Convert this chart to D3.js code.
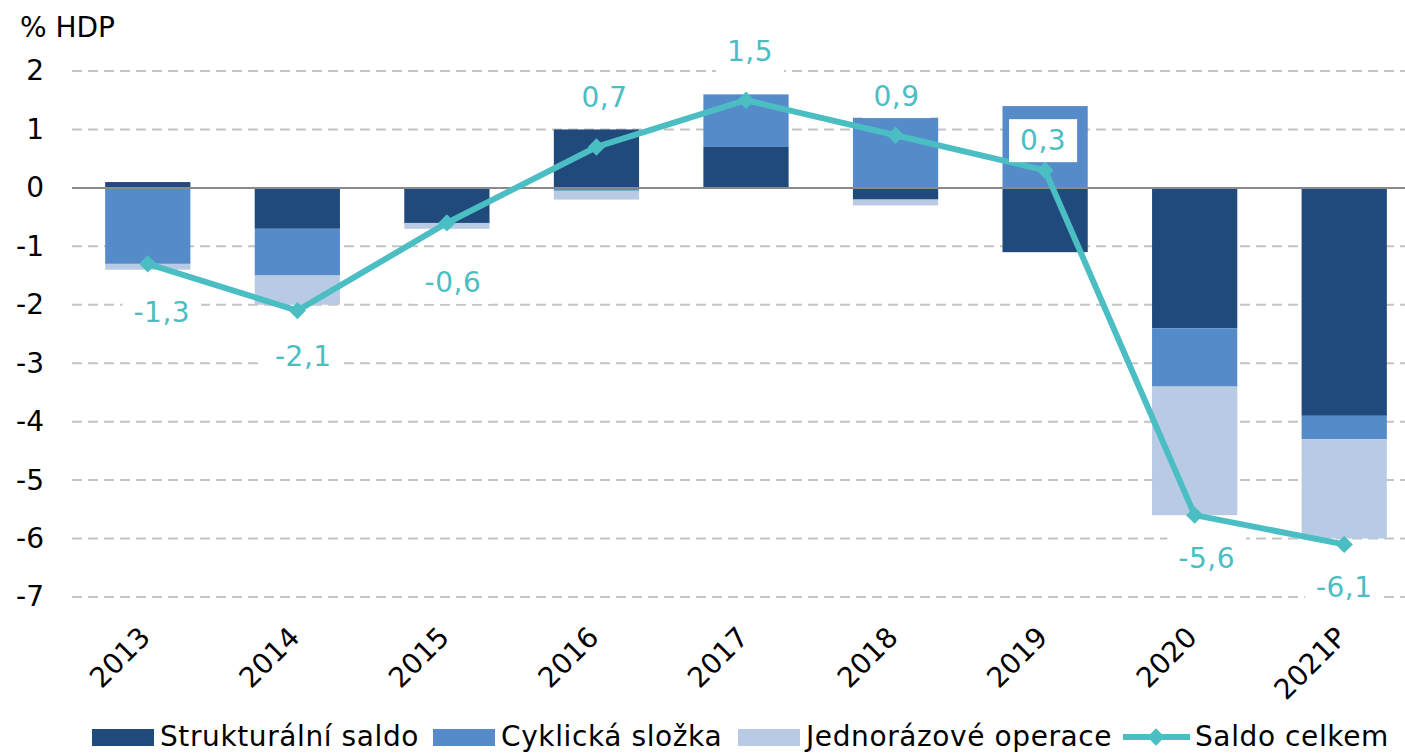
<!DOCTYPE html>
<html>
<head>
<meta charset="utf-8">
<script src="https://cdnjs.cloudflare.com/ajax/libs/d3/7.8.5/d3.min.js"></script>
<style>
  body { margin: 0; background: #fff; }
  svg { display: block; font-family: "DejaVu Sans", Verdana, sans-serif; }
</style>
</head>
<body>
<div id="chart"></div>
<script>
// data (% HDP)
var years = ["2013", "2014", "2015", "2016", "2017", "2018", "2019", "2020", "2021P"];
var strukturalni = [0.1, -0.7, -0.6, 1.0, 0.7, -0.2, -1.1, -2.4, -3.9];
var cyklicka = [-1.3, -0.8, 0.0, -0.05, 0.9, 1.2, 1.4, -1.0, -0.4];
var jednorazove = [-0.1, -0.5, -0.1, -0.15, 0.0, -0.1, 0.0, -2.2, -1.7];
var saldoCelkem = [-1.3, -2.1, -0.6, 0.7, 1.5, 0.9, 0.3, -5.6, -6.1];
var yTicks = [2, 1, 0, -1, -2, -3, -4, -5, -6, -7];
var seriesNames = ["Strukturální saldo", "Cyklická složka", "Jednorázové operace", "Saldo celkem"];

var svgWidth = 1405;
var svgHeight = 753;

var colors = ["#214a7c", "#568bca", "#b9cbe4"];
var lineColor = "#4bbec4";

// label nudges (dx, dy from the point), like the hand placed labels of the original
var labelShift = [[14, 48], [6, 46], [6, 59], [8, -50], [4, -49], [1, -39], [-2, -30], [12, 43], [0, 43]];
// legend item start positions
var legendX = [92, 433, 738, 1123];

var svg = d3.select("#chart")
  .append("svg")
  .attr("width", svgWidth)
  .attr("height", svgHeight);

var xScale = d3.scaleBand()
  .domain(years)
  .range([73, 1419])
  .paddingInner(0.43)
  .paddingOuter(0.215);

var yScale = d3.scaleLinear()
  .domain([-7, 2])
  .range([597, 71]);

// gridlines
svg.append("g")
  .selectAll("line")
  .data(yTicks.filter(d => d !== 0))
  .enter()
  .append("line")
    .attr("x1", 72)
    .attr("x2", svgWidth)
    .attr("y1", d => yScale(d))
    .attr("y2", d => yScale(d))
    .attr("stroke", "#c4c4c4")
    .attr("stroke-width", 2)
    .attr("stroke-dasharray", "10,6");

// y axis labels
var leftAxis = d3.axisLeft(yScale).tickValues(yTicks).tickFormat(d => String(d)).tickSize(0).tickPadding(0);
var yAxisG = svg.append("g")
  .attr("transform", "translate(44, 0)")
  .call(leftAxis);
yAxisG.select(".domain").remove();
yAxisG.selectAll("text")
  .attr("font-size", 28)
  .attr("font-family", "DejaVu Sans, Verdana, sans-serif")
  .attr("fill", "#000");

svg.append("text")
  .attr("x", 20)
  .attr("y", 37)
  .attr("font-size", 28)
  .attr("fill", "#000")
  .text("% HDP");

// stacked bars
var rows = years.map(function(y, i) {
  return { year: y, s: strukturalni[i], c: cyklicka[i], j: jednorazove[i] };
});
var stack = d3.stack()
  .keys(["s", "c", "j"])
  .offset(d3.stackOffsetDiverging);
var layers = stack(rows);

svg.append("g")
  .selectAll("g")
  .data(layers)
  .enter()
  .append("g")
    .attr("fill", (d, i) => colors[i])
  .selectAll("rect")
  .data(d => d)
  .enter()
  .append("rect")
    .attr("x", d => xScale(d.data.year))
    .attr("width", xScale.bandwidth())
    .attr("y", d => yScale(Math.max(d[0], d[1])))
    .attr("height", d => Math.abs(yScale(d[0]) - yScale(d[1])));

// zero line
svg.append("line")
  .attr("x1", 72)
  .attr("x2", svgWidth)
  .attr("y1", yScale(0))
  .attr("y2", yScale(0))
  .attr("stroke", "#8a8a8a")
  .attr("stroke-width", 2);

// x axis labels (rotated)
var bottomAxis = d3.axisBottom(xScale).tickSize(0).tickPadding(0);
var xAxisG = svg.append("g")
  .attr("transform", "translate(0, 597)")
  .call(bottomAxis);
xAxisG.select(".domain").remove();
xAxisG.selectAll("text")
  .attr("font-size", 28)
  .attr("font-family", "DejaVu Sans, Verdana, sans-serif")
  .attr("fill", "#000")
  .attr("text-anchor", "end")
  .attr("dy", null)
  .attr("y", 0)
  .attr("transform", "translate(4, 42) rotate(-45)");

// total balance line
var lineGen = d3.line()
  .x((d, i) => xScale(years[i]) + xScale.bandwidth() / 2)
  .y(d => yScale(d));

svg.append("path")
  .datum(saldoCelkem)
  .attr("d", lineGen)
  .attr("fill", "none")
  .attr("stroke", lineColor)
  .attr("stroke-width", 6)
  .attr("stroke-linejoin", "round");

var diamond = d3.symbol().type(d3.symbolSquare).size(150);
svg.append("g")
  .selectAll("path")
  .data(saldoCelkem)
  .enter()
  .append("path")
    .attr("d", diamond)
    .attr("fill", lineColor)
    .attr("transform", (d, i) => `translate(${xScale(years[i]) + xScale.bandwidth() / 2}, ${yScale(d)}) rotate(45)`);

// data labels with white boxes
var fmt = d => d3.format(".1f")(d).replace(".", ",").replace("−", "-");
var labelG = svg.append("g")
  .selectAll("g")
  .data(saldoCelkem)
  .enter()
  .append("g")
    .attr("transform", (d, i) => `translate(${xScale(years[i]) + xScale.bandwidth() / 2 + labelShift[i][0]}, ${yScale(d) + labelShift[i][1]})`);

labelG.append("text")
  .attr("text-anchor", "middle")
  .attr("dy", "0.35em")
  .attr("font-size", 28)
  .attr("letter-spacing", 0.5)
  .attr("fill", lineColor)
  .text(fmt);

labelG.each(function() {
  var g = d3.select(this);
  var bb = g.select("text").node().getBBox();
  g.insert("rect", "text")
    .attr("x", bb.x - 11)
    .attr("y", bb.y - 5)
    .attr("width", bb.width + 22)
    .attr("height", bb.height + 10)
    .attr("fill", "#fff");
});

// legend
var legend = svg.append("g");
var ly = 737;
seriesNames.forEach(function(name, i) {
  var lx = legendX[i];
  if (i < 3) {
    legend.append("rect")
      .attr("x", lx)
      .attr("y", ly - 8)
      .attr("width", 62)
      .attr("height", 17)
      .attr("fill", colors[i]);
  } else {
    legend.append("line")
      .attr("x1", lx)
      .attr("x2", lx + 67)
      .attr("y1", ly)
      .attr("y2", ly)
      .attr("stroke", lineColor)
      .attr("stroke-width", 6);
    legend.append("path")
      .attr("d", diamond)
      .attr("fill", lineColor)
      .attr("transform", `translate(${lx + 33}, ${ly}) rotate(45)`);
  }
  legend.append("text")
    .attr("x", lx + (i < 3 ? 68 : 72))
    .attr("y", ly + 9)
    .attr("font-size", 28)
    .attr("letter-spacing", 0.6)
    .attr("fill", "#000")
    .text(name);
});
</script>
</body>
</html>
